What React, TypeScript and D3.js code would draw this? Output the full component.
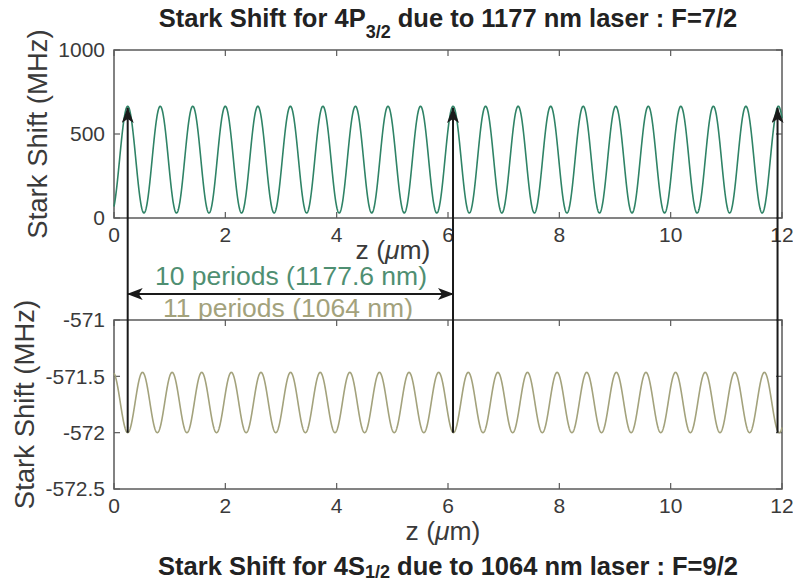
import React, { useEffect, useRef } from "react";
import * as d3 from "d3";

// ---- data ----
const xTicks = [0, 2, 4, 6, 8, 10, 12];
const topYTicks = [0, 500, 1000];
const bottomYTicks = [-572.5, -572, -571.5, -571];
const bottomYTickLabels = ["-572.5", "-572", "-571.5", "-571"];

// Standing-wave light shift: [period (µm), first extremum z (µm), min, max]
const topWave = { period: 0.5845, firstPeak: 0.246, min: 30, max: 665 };
const bottomWave = { period: 0.532, firstTrough: 0.246, min: -572.0, max: -571.465 };
const zSamples = d3.range(0, 12.0001, 0.004);

// arrows: z positions of the vertical arrows (µm)
const arrowZ = [0.246, 6.09, 11.92];
const arrowTopValue = 655; // tip, top panel units
const arrowBottomValue = -572; // foot, bottom panel units
const spanArrowZ = [0.246, 6.09];

const topTitle = ["Stark Shift for 4P", "3/2", " due to 1177 nm laser : F=7/2"];
const bottomTitle = ["Stark Shift for 4S", "1/2", " due to 1064 nm laser : F=9/2"];
const label10 = "10 periods (1177.6 nm)";
const label11 = "11 periods (1064 nm)";

const GREEN = "#2f8366";
const GREEN_TXT = "#4f8f72";
const KHAKI = "#a3a27c";
const AXIS = "#5a5a5a";
const TXT = "#3a3a3a";
const FONT = "'Liberation Sans', Arial, sans-serif";

export default function App() {
  const ref = useRef<SVGSVGElement>(null);

  useEffect(() => {
    const svg = d3.select(ref.current);
    svg.selectAll("*").remove();

    const L = 114, R = 782;
    const top = { t: 50, b: 218 };
    const bot = { t: 320, b: 489 };

    const x = d3.scaleLinear().domain([0, 12]).range([L, R]);
    const yT = d3.scaleLinear().domain([0, 1000]).range([top.b, top.t]);
    const yB = d3.scaleLinear().domain([-572.5, -571]).range([bot.b, bot.t]);

    const defs = svg.append("defs");
    defs.append("marker")
      .attr("id", "ah").attr("viewBox", "0 0 16 12").attr("refX", 15).attr("refY", 6)
      .attr("markerWidth", 16).attr("markerHeight", 12).attr("markerUnits", "userSpaceOnUse")
      .attr("orient", "auto-start-reverse")
      .append("path").attr("d", "M0,0 L16,6 L0,12 L4,6 Z").attr("fill", "#1a1a1a");

    // titles
    const title = (parts: string[], y: number, subDy: number) => {
      const t = svg.append("text").attr("x", (L + R) / 2).attr("y", y)
        .attr("text-anchor", "middle").attr("font-family", FONT)
        .attr("font-weight", "bold").attr("font-size", 25.5).attr("fill", "#222");
      t.append("tspan").text(parts[0]);
      t.append("tspan").attr("font-size", 18).attr("dy", subDy).text(parts[1]);
      t.append("tspan").attr("dy", -subDy).text(parts[2]);
    };
    title(topTitle, 27, 11);
    title(bottomTitle, 575, 3);

    // annotation texts (drawn before bottom panel so the panel hides descenders)
    svg.append("text").attr("x", 291).attr("y", 285).attr("text-anchor", "middle")
      .attr("font-family", FONT).attr("font-size", 26.5).attr("fill", GREEN_TXT).text(label10);
    svg.append("text").attr("x", 288).attr("y", 317).attr("text-anchor", "middle")
      .attr("font-family", FONT).attr("font-size", 26.5).attr("fill", KHAKI).text(label11);

    const panel = (
      y: d3.ScaleLinear<number, number>, pt: { t: number; b: number },
      yTicks: number[], yLabels: string[], ylabX: number
    ) => {
      const g = svg.append("g");
      g.append("rect").attr("x", L).attr("y", pt.t).attr("width", R - L).attr("height", pt.b - pt.t)
        .attr("fill", "white");
      g.append("rect").attr("x", L).attr("y", pt.t).attr("width", R - L).attr("height", pt.b - pt.t)
        .attr("fill", "none").attr("stroke", AXIS).attr("stroke-width", 1.5);
      const tl = 6;
      xTicks.forEach((v) => {
        g.append("line").attr("x1", x(v)).attr("x2", x(v)).attr("y1", pt.b).attr("y2", pt.b - tl)
          .attr("stroke", AXIS).attr("stroke-width", 1.2);
        g.append("line").attr("x1", x(v)).attr("x2", x(v)).attr("y1", pt.t).attr("y2", pt.t + tl)
          .attr("stroke", AXIS).attr("stroke-width", 1.2);
        g.append("text").attr("x", x(v)).attr("y", pt.b + 24).attr("text-anchor", "middle")
          .attr("font-family", FONT).attr("font-size", 21).attr("fill", TXT).text(String(v));
      });
      yTicks.forEach((v, i) => {
        g.append("line").attr("x1", L).attr("x2", L + tl).attr("y1", y(v)).attr("y2", y(v))
          .attr("stroke", AXIS).attr("stroke-width", 1.2);
        g.append("line").attr("x1", R).attr("x2", R - tl).attr("y1", y(v)).attr("y2", y(v))
          .attr("stroke", AXIS).attr("stroke-width", 1.2);
        g.append("text").attr("x", L - 9).attr("y", y(v)).attr("dy", "0.35em").attr("text-anchor", "end")
          .attr("font-family", FONT).attr("font-size", 21).attr("fill", TXT).text(yLabels[i]);
      });
      g.append("text").attr("transform", `translate(${ylabX},${(pt.t + pt.b) / 2}) rotate(-90)`)
        .attr("text-anchor", "middle").attr("font-family", FONT).attr("font-size", 27.5)
        .attr("fill", TXT).text("Stark Shift (MHz)");
      return g;
    };

    const gT = panel(yT, top, topYTicks, topYTicks.map(String), 47);
    const gB = panel(yB, bot, bottomYTicks, bottomYTickLabels, 34);

    const xLabel = (cx: number, y: number) => {
      const t = svg.append("text").attr("x", cx).attr("y", y).attr("text-anchor", "middle")
        .attr("font-family", FONT).attr("font-size", 26.5).attr("fill", TXT);
      t.append("tspan").text("z  (");
      t.append("tspan").attr("font-style", "italic").text("\u03bc");
      t.append("tspan").text("m)");
    };
    xLabel(393, 259);
    xLabel(443, 540);

    // curves
    const topVals = zSamples.map((z) => {
      const mid = (topWave.min + topWave.max) / 2, amp = (topWave.max - topWave.min) / 2;
      return [z, mid + amp * Math.cos((2 * Math.PI * (z - topWave.firstPeak)) / topWave.period)];
    });
    const botVals = zSamples.map((z) => {
      const mid = (bottomWave.min + bottomWave.max) / 2, amp = (bottomWave.max - bottomWave.min) / 2;
      return [z, mid - amp * Math.cos((2 * Math.PI * (z - bottomWave.firstTrough)) / bottomWave.period)];
    });
    gT.append("path").datum(topVals)
      .attr("d", d3.line<number[]>().x((d) => x(d[0])).y((d) => yT(d[1])))
      .attr("fill", "none").attr("stroke", GREEN).attr("stroke-width", 1.6);
    gB.append("path").datum(botVals)
      .attr("d", d3.line<number[]>().x((d) => x(d[0])).y((d) => yB(d[1])))
      .attr("fill", "none").attr("stroke", KHAKI).attr("stroke-width", 1.6);

    // vertical arrows
    arrowZ.forEach((z) => {
      svg.append("line").attr("x1", x(z)).attr("x2", x(z))
        .attr("y1", yB(arrowBottomValue)).attr("y2", yT(arrowTopValue))
        .attr("stroke", "#1a1a1a").attr("stroke-width", 2).attr("marker-end", "url(#ah)");
    });
    // horizontal double arrow
    svg.append("line").attr("x1", x(spanArrowZ[0])).attr("x2", x(spanArrowZ[1]))
      .attr("y1", 294).attr("y2", 294)
      .attr("stroke", "#1a1a1a").attr("stroke-width", 2)
      .attr("marker-start", "url(#ah)").attr("marker-end", "url(#ah)");
  }, []);

  return (
    <svg ref={ref} width={793} height={583}
      style={{ position: "absolute", left: 0, top: 0, background: "white" }} />
  );
}
